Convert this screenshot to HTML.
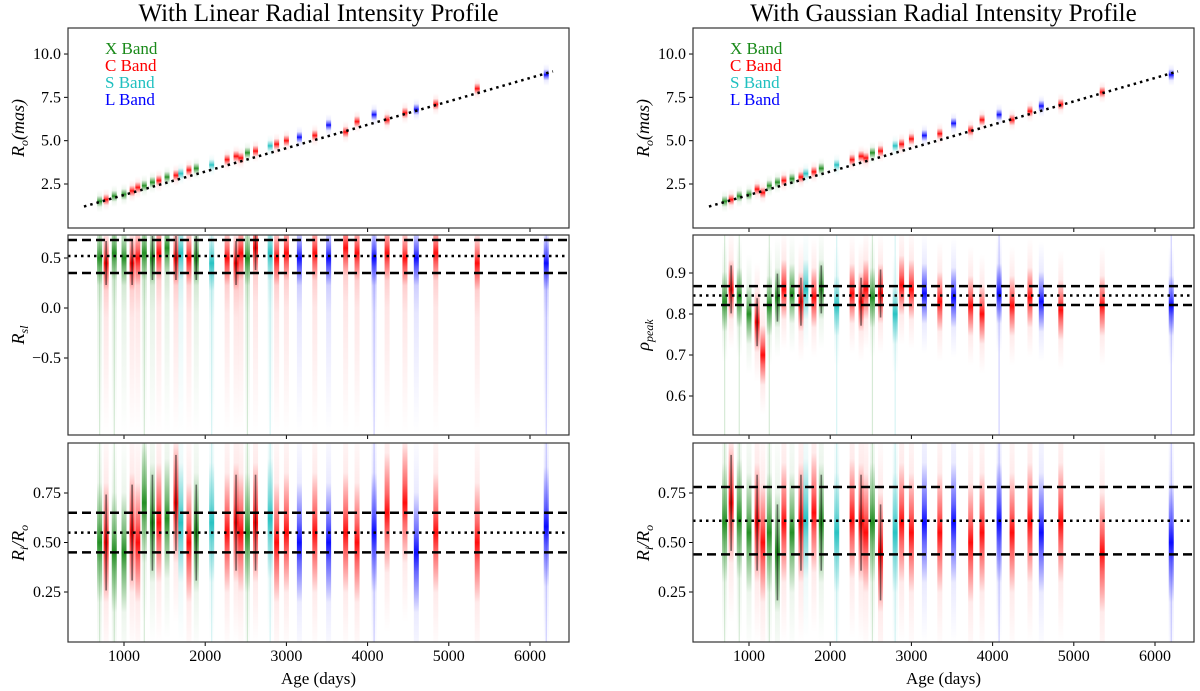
<!DOCTYPE html>
<html><head><meta charset="utf-8"><style>
body{margin:0;background:#fff;}
svg{display:block;font-family:"Liberation Serif",serif;}
</style></head><body>
<svg id="c" width="1200" height="691"></svg>
<script>
const ages=[700,780,880,1000,1100,1170,1250,1350,1430,1530,1640,1700,1800,1890,2080,2270,2380,2440,2520,2620,2800,2880,3000,3160,3350,3520,3730,3870,4080,4240,4460,4600,4840,5350,6200];
const bands=['X','C','X','X','C','C','X','X','C','X','C','S','C','X','S','C','C','C','X','C','S','C','C','L','C','L','C','C','L','C','C','L','C','C','L'];
const roLinear=[1.5,1.6,1.8,1.9,2.1,2.3,2.4,2.6,2.7,2.9,3.0,3.1,3.3,3.4,3.6,3.9,4.1,4.0,4.3,4.4,4.7,4.8,5.0,5.2,5.3,5.9,5.5,6.1,6.5,6.2,6.6,6.8,7.1,8.0,8.8];
const roGauss=[1.5,1.6,1.8,1.9,2.2,2.0,2.4,2.6,2.7,2.8,2.9,3.1,3.2,3.4,3.6,3.9,4.1,4.0,4.3,4.4,4.7,4.8,5.1,5.3,5.4,6.0,5.6,6.2,6.5,6.2,6.7,7.0,7.1,7.8,8.8];
const rslCenters=[0.5,0.45,0.55,0.5,0.45,0.5,0.55,0.5,0.55,0.6,0.5,0.55,0.5,0.5,0.45,0.5,0.45,0.55,0.5,0.6,0.55,0.5,0.55,0.5,0.55,0.5,0.6,0.55,0.5,0.55,0.5,0.5,0.55,0.45,0.45];
const peakCenters=[0.83,0.86,0.84,0.8,0.78,0.7,0.82,0.84,0.86,0.85,0.83,0.86,0.84,0.86,0.82,0.85,0.83,0.86,0.84,0.85,0.8,0.87,0.86,0.85,0.83,0.84,0.82,0.8,0.85,0.82,0.84,0.83,0.81,0.82,0.82];
const riLinear=[0.5,0.5,0.45,0.45,0.55,0.5,0.7,0.6,0.6,0.62,0.7,0.6,0.5,0.55,0.6,0.55,0.6,0.55,0.55,0.6,0.62,0.5,0.55,0.5,0.55,0.5,0.55,0.5,0.55,0.65,0.7,0.45,0.55,0.5,0.58];
const riGauss=[0.6,0.7,0.62,0.55,0.6,0.5,0.55,0.45,0.6,0.55,0.6,0.62,0.65,0.6,0.55,0.62,0.6,0.55,0.6,0.45,0.55,0.6,0.55,0.6,0.55,0.6,0.5,0.55,0.6,0.55,0.6,0.55,0.6,0.45,0.5];
const bandNames=['X Band','C Band','S Band','L Band'];
const bandCols={X:'#1a8a1a',C:'#ff0000',S:'#20c0c0',L:'#0000ff'};
const xTicks=[1000,2000,3000,4000,5000,6000];

const NS='http://www.w3.org/2000/svg';
const svg=document.getElementById('c');
function el(t,a,p){const e=document.createElementNS(NS,t);for(const k in a)e.setAttribute(k,a[k]);(p||svg).appendChild(e);return e;}
const defs=el('defs',{});
for(const b in bandCols){
  const g=el('linearGradient',{id:'g'+b,x1:0,y1:0,x2:0,y2:1},defs);
  [[0,0],[0.25,0.08],[0.42,0.6],[0.5,0.95],[0.58,0.6],[0.75,0.08],[1,0]].forEach(s=>el('stop',{offset:s[0],'stop-color':bandCols[b],'stop-opacity':s[1]},g));
  const t=el('linearGradient',{id:'t'+b,x1:0,y1:0,x2:0,y2:1},defs);
  [[0,0.14],[1,0]].forEach(s=>el('stop',{offset:s[0],'stop-color':bandCols[b],'stop-opacity':s[1]},t));
}
function xs(off){return a=>off+124+(a-1000)*0.0812;}
const cols=[{off:0,title:'With Linear Radial Intensity Profile',ro:roLinear,mid:rslCenters,ri:riLinear,
  midY:v=>308-(v)*100,midTicks:[[0.5,'0.5'],[0,'0.0'],[-0.5,'−0.5']],midLab:'R',midSub:'sl',midH:110,tail:true,
  midLines:[[0.68,'d'],[0.52,'o'],[0.35,'d']],riLines:[[0.65,'d'],[0.55,'o'],[0.45,'d']]},
 {off:625,title:'With Gaussian Radial Intensity Profile',ro:roGauss,mid:peakCenters,ri:riGauss,
  midY:v=>273-(v-0.9)*410,midTicks:[[0.9,'0.9'],[0.8,'0.8'],[0.7,'0.7'],[0.6,'0.6']],midLab:'ρ',midSub:'peak',midH:120,tail:false,
  midLines:[[0.868,'d'],[0.845,'o'],[0.822,'d']],riLines:[[0.78,'d'],[0.61,'o'],[0.44,'d']]}];
const roY=v=>184-(v-2.5)*17.33;
const riY=v=>592-(v-0.25)*198;
cols.forEach((c,ci)=>{
  const X=xs(c.off), L=68+c.off, R=569+c.off;
  const t=el('text',{x:(L+R)/2,y:21,'text-anchor':'middle','font-size':25});t.textContent=c.title;
  
  
  const panels=[[28,228,'top'],[235,435,'mid'],[443,642,'bottom']];
  panels.forEach((p,pi)=>{
    const g=el('g',{});
    
    
    const cp='cp'+ci+pi;
    const cl=el('clipPath',{id:cp},defs);el('rect',{x:L,y:p[0],width:R-L,height:p[1]-p[0]},cl);
    const mg=el('g',{'clip-path':'url(#'+cp+')'},g);
    ages.forEach((a,i)=>{
      const b=bands[i],x=X(a);let cy,h;
      if(pi==0){cy=roY(c.ro[i]);h=22;}
      else if(pi==1){cy=c.midY(c.mid[i]);h=c.midH;}
      else{cy=riY(c.ri[i]);h=240;}
      if(pi==1&&c.tail){el('rect',{x:x-2.5,y:cy,width:5,height:p[1]-cy,fill:'url(#t'+b+')'},mg);}
      const r=el('rect',{x:x-2.5,y:cy-h/2,width:5,height:h,fill:'url(#g'+b+')'},mg);
      
      
      if(pi>0&&b!='C'&&i%2==0){el('rect',{x:x-0.6,y:p[0],width:1.2,height:p[1]-p[0],fill:bandCols[b],opacity:0.18},mg);}
      if(pi>0&&i<22&&i%3==1){el('rect',{x:x-0.8,y:cy-h/5,width:1.6,height:h/2.5,fill:'#000',opacity:0.5},mg);}
    });
    if(pi==0){
      el('line',{x1:X(507),y1:roY(1.2),x2:X(6283),y2:roY(9.0),stroke:'#000','stroke-width':2.5,'stroke-dasharray':'2.5 4'},g);
      ['X','C','S','L'].forEach((b,k)=>{const lt=el('text',{x:L+37,y:54+k*17,'font-size':17,fill:bandCols[b]},g);lt.textContent=bandNames[k];
        });
      [[2.5,'2.5'],[5,'5.0'],[7.5,'7.5'],[10,'10.0']].forEach(tk=>{const y=roY(tk[0]);el('line',{x1:L-4,x2:L,y1:y,y2:y,stroke:'#000'},g);
        const tt=el('text',{x:L-7,y:y+5,'text-anchor':'end','font-size':16},g);tt.textContent=tk[1];});
    } else if(pi==1){
      c.midLines.forEach(l=>{const y=c.midY(l[0]);el('line',{x1:L,x2:R,y1:y,y2:y,stroke:'#000','stroke-width':2.5,'stroke-dasharray':l[1]=='d'?'9 5':'2.5 4'},g);});
      c.midTicks.forEach(tk=>{const y=c.midY(tk[0]);el('line',{x1:L-4,x2:L,y1:y,y2:y,stroke:'#000'},g);
        const tt=el('text',{x:L-7,y:y+5,'text-anchor':'end','font-size':16},g);tt.textContent=tk[1];});
    } else {
      c.riLines.forEach(l=>{const y=riY(l[0]);el('line',{x1:L,x2:R,y1:y,y2:y,stroke:'#000','stroke-width':2.5,'stroke-dasharray':l[1]=='d'?'9 5':'2.5 4'},g);});
      [[0.25,'0.25'],[0.5,'0.50'],[0.75,'0.75']].forEach(tk=>{const y=riY(tk[0]);el('line',{x1:L-4,x2:L,y1:y,y2:y,stroke:'#000'},g);
        const tt=el('text',{x:L-7,y:y+5,'text-anchor':'end','font-size':16},g);tt.textContent=tk[1];});
    }
    xTicks.forEach(v=>{el('line',{x1:X(v),x2:X(v),y1:p[1],y2:p[1]+4,stroke:'#000'},g);});
    el('rect',{x:L,y:p[0],width:R-L,height:p[1]-p[0],fill:'none',stroke:'#333','stroke-width':1.2},g);
  });
  xTicks.forEach(v=>{const tt=el('text',{x:X(v),y:661,'text-anchor':'middle','font-size':16});tt.textContent=v;
    });
  const xl=el('text',{x:(L+R)/2,y:684,'text-anchor':'middle','font-size':17});xl.textContent='Age (days)';
  
  function ylab(y,html){const g=el('text',{transform:'translate('+(c.off+24)+','+y+') rotate(-90)','text-anchor':'middle','font-size':18,'font-style':'italic'});g.innerHTML=html;
    }
  ylab(128,'R<tspan font-size="12" dy="4">o</tspan><tspan dy="-4">(mas)</tspan>');
  ylab(335,c.midLab+'<tspan font-size="12" dy="4">'+c.midSub+'</tspan>');
  ylab(543,'R<tspan font-size="12" dy="4">i</tspan><tspan dy="-4">/R</tspan><tspan font-size="12" dy="4">o</tspan>');
});
</script>
</body></html>
